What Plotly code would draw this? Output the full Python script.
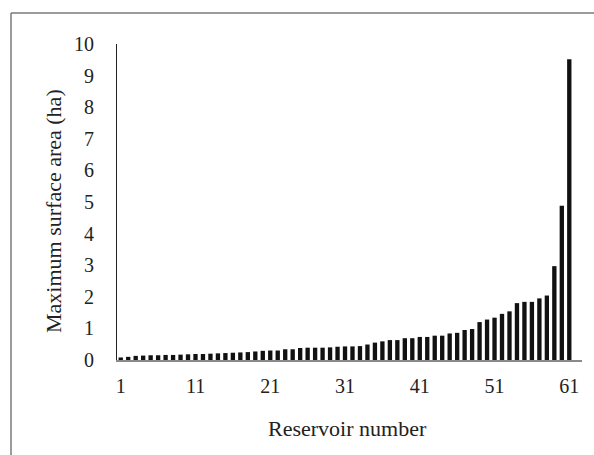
import plotly.graph_objects as go

reservoir = list(range(1, 62))
area_ha = [0.08, 0.10, 0.13, 0.14, 0.15, 0.15, 0.16, 0.16, 0.17, 0.18,
           0.19, 0.19, 0.20, 0.21, 0.22, 0.23, 0.24, 0.25, 0.27, 0.29,
           0.30, 0.30, 0.34, 0.34, 0.38, 0.39, 0.39, 0.39, 0.40, 0.42,
           0.43, 0.43, 0.44, 0.49, 0.55, 0.59, 0.63, 0.63, 0.69, 0.69,
           0.73, 0.73, 0.77, 0.77, 0.84, 0.86, 0.95, 0.98, 1.20, 1.28,
           1.34, 1.46, 1.54, 1.80, 1.84, 1.84, 1.95, 2.04, 2.97, 4.88,
           9.52]
x_ticks = [1, 11, 21, 31, 41, 51, 61]
y_ticks = list(range(0, 11))
x_title = "Reservoir number"
y_title = "Maximum surface area (ha)"

font_family = "Liberation Serif, Times New Roman, serif"

fig = go.Figure(go.Bar(x=reservoir, y=area_ha, marker=dict(color="#111111", line=dict(width=0))))

L, R, T, B = 117, 12, 44, 95
W, H = 594, 455
pw, ph = W - L - R, H - T - B

def px_x(p):
    return (p - L) / pw

def px_y(p):
    return (H - B - p) / ph

border = dict(color="#7a7a7a", width=1.5)

fig.update_layout(
    width=W, height=H,
    margin=dict(l=L, r=R, t=T, b=B, autoexpand=False),
    paper_bgcolor="white", plot_bgcolor="white",
    bargap=0.42,
    showlegend=False,
    font=dict(family=font_family, size=20, color="#222222"),
    shapes=[
        dict(type="line", xref="paper", yref="paper",
             x0=px_x(11), x1=px_x(620), y0=px_y(13), y1=px_y(13), line=border, layer="below"),
        dict(type="line", xref="paper", yref="paper",
             x0=px_x(11), x1=px_x(11), y0=px_y(13), y1=px_y(480), line=border, layer="below"),
    ],
    annotations=[
        dict(text=x_title, xref="paper", yref="paper", x=px_x(347), y=px_y(428),
             xanchor="center", yanchor="middle", showarrow=False, font=dict(size=22)),
        dict(text=y_title, xref="paper", yref="paper", x=px_x(54), y=px_y(211),
             xanchor="center", yanchor="middle", textangle=-90, showarrow=False, font=dict(size=22)),
    ],
)
fig.update_xaxes(
    range=[0.5, 62.7], tickmode="array", tickvals=x_ticks, ticktext=[str(v) for v in x_ticks],
    showline=True, linecolor="#8a8a8a", linewidth=1.5, showgrid=False, zeroline=False,
    ticks="outside", ticklen=7, tickcolor="rgba(0,0,0,0)", automargin=False,
)
fig.update_yaxes(
    range=[0, 10], tickmode="array", tickvals=y_ticks,
    showline=True, linecolor="#222222", linewidth=1.2, showgrid=False, zeroline=False,
    ticks="outside", ticklen=18, tickcolor="rgba(0,0,0,0)", automargin=False,
)

fig.write_html("out.html", config={"displayModeBar": False},
               post_script="document.body.style.margin='0';document.body.style.overflow='hidden';")
